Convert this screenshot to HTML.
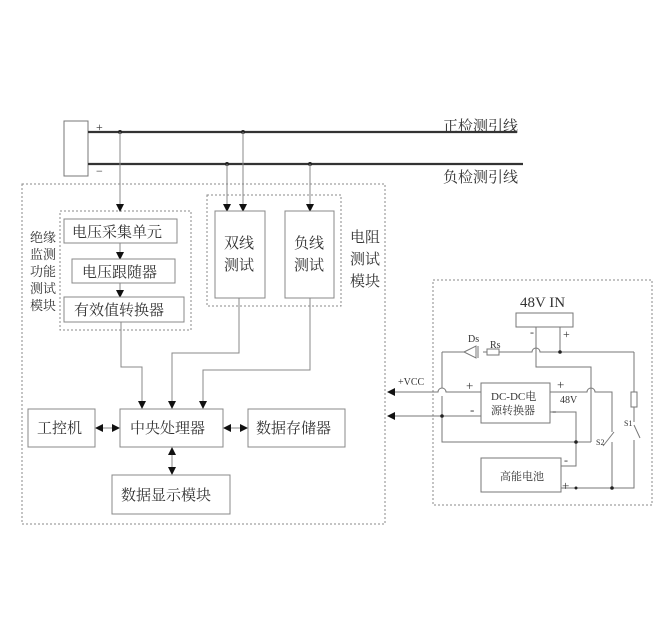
<!DOCTYPE html>
<html><head><meta charset="utf-8"><style>
body{margin:0;background:#fff}
svg{display:block}
text{font-family:"Liberation Serif","Noto Serif CJK SC","Noto Sans CJK SC",serif;fill:#333}
</style></head><body>
<svg width="667" height="644" viewBox="0 0 667 644" xmlns="http://www.w3.org/2000/svg">
<defs>
<marker id="a" markerWidth="8" markerHeight="8" refX="7" refY="4" orient="auto" markerUnits="userSpaceOnUse"><path d="M0,0 L8,4 L0,8 z" fill="#111"/></marker>
<marker id="s" markerWidth="8" markerHeight="8" refX="1" refY="4" orient="auto" markerUnits="userSpaceOnUse"><path d="M8,0 L0,4 L8,8 z" fill="#111"/></marker>
</defs>
<g fill="none" stroke="#888" stroke-width="1" stroke-dasharray="2,2">
<rect x="22" y="184" width="363" height="340"/>
<rect x="60" y="211" width="131" height="119"/>
<rect x="207" y="195" width="134" height="111"/>
<rect x="433" y="280" width="219" height="225"/>
</g>
<!-- probe lines -->
<rect x="64" y="121" width="24" height="55" fill="#fff" stroke="#777"/>
<line x1="88" y1="132" x2="517" y2="132" stroke="#333" stroke-width="2.2"/>
<line x1="88" y1="164" x2="523" y2="164" stroke="#333" stroke-width="2.2"/>
<text x="96" y="131" font-size="12" fill="#666">+</text>
<text x="96" y="175" font-size="12" fill="#666">−</text>
<text x="443" y="131" font-size="15">正检测引线</text>
<text x="443" y="182" font-size="15">负检测引线</text>
<g fill="#222"><circle cx="120" cy="132" r="2"/><circle cx="243" cy="132" r="2"/><circle cx="227" cy="164" r="2"/><circle cx="310" cy="164" r="2"/></g>
<g stroke="#888" stroke-width="1" fill="none">
<line x1="120" y1="132" x2="120" y2="211" marker-end="url(#a)"/>
<line x1="243" y1="132" x2="243" y2="211" marker-end="url(#a)"/>
<line x1="227" y1="164" x2="227" y2="211" marker-end="url(#a)"/>
<line x1="310" y1="164" x2="310" y2="211" marker-end="url(#a)"/>
<line x1="120" y1="243" x2="120" y2="259" marker-end="url(#a)"/>
<line x1="120" y1="283" x2="120" y2="297" marker-end="url(#a)"/>
<polyline points="121,322 121,367 142,367 142,408" marker-end="url(#a)"/>
<polyline points="239,298 239,353 172,353 172,408" marker-end="url(#a)"/>
<polyline points="310,298 310,370 203,370 203,408" marker-end="url(#a)"/>
<line x1="96" y1="428" x2="119" y2="428" marker-start="url(#s)" marker-end="url(#a)"/>
<line x1="224" y1="428" x2="247" y2="428" marker-start="url(#s)" marker-end="url(#a)"/>
<line x1="172" y1="448" x2="172" y2="474" marker-start="url(#s)" marker-end="url(#a)"/>
</g>
<g fill="#fff" stroke="#888">
<rect x="64" y="219" width="113" height="24"/>
<rect x="72" y="259" width="103" height="24"/>
<rect x="64" y="297" width="120" height="25"/>
<rect x="215" y="211" width="50" height="87"/>
<rect x="285" y="211" width="49" height="87"/>
<rect x="120" y="409" width="103" height="38"/>
<rect x="28" y="409" width="67" height="38"/>
<rect x="248" y="409" width="97" height="38"/>
<rect x="112" y="475" width="118" height="39"/>
</g>
<g font-size="15">
<text x="72" y="237">电压采集单元</text>
<text x="82" y="277">电压跟随器</text>
<text x="74" y="315">有效值转换器</text>
<text x="224" y="248">双线</text><text x="224" y="270">测试</text>
<text x="294" y="248">负线</text><text x="294" y="270">测试</text>
<text x="350" y="242">电阻</text><text x="350" y="264">测试</text><text x="350" y="286">模块</text>
<text x="130" y="433">中央处理器</text>
<text x="37" y="433">工控机</text>
<text x="256" y="433">数据存储器</text>
<text x="121" y="500">数据显示模块</text>
</g>
<g font-size="13">
<text x="30" y="242">绝缘</text><text x="30" y="259">监测</text><text x="30" y="276">功能</text><text x="30" y="293">测试</text><text x="30" y="310">模块</text>
</g>
<!-- right circuit -->
<g stroke="#777" stroke-width="1" fill="none">
<rect x="516" y="313" width="57" height="14" fill="#fff"/>
<path d="M442,352 L464,352 M483,352 L487,352 M499,352 L532,352 A4,4 0 0 1 540,352 L634,352"/>
<polyline points="536,327 536,367 591,367 591,442"/>
<line x1="560" y1="327" x2="560" y2="352"/>
<path d="M388,392 L438,392 A4,4 0 0 1 446,392 L481,392" marker-start="url(#s)"/>
<line x1="388" y1="416" x2="481" y2="416" marker-start="url(#s)"/>
<path d="M442,352 L442,388 M442,396 L442,442 L591,442"/>
<path d="M550,392 L587,392 A4,4 0 0 1 595,392 L612,392 L612,432"/>
<line x1="612" y1="442" x2="612" y2="488"/>
<line x1="603" y1="446" x2="614" y2="432"/>
<polyline points="550,412 576,412 576,466 561,466"/>
<path d="M634,352 L634,392 M634,407 L634,422 M634,440 L634,488 L561,488"/>
<rect x="631" y="392" width="6" height="15" fill="#fff"/>
<line x1="634" y1="425" x2="640" y2="438"/>
<rect x="487" y="349" width="12" height="6" fill="#fff"/>
<path d="M464,352 L476,346 L476,358 Z M478,346 L478,358" fill="#fff"/>
<rect x="481" y="383" width="69" height="40" fill="#fff"/>
<rect x="481" y="458" width="80" height="34" fill="#fff"/>
</g>
<g fill="#222"><circle cx="560" cy="352" r="1.8"/><circle cx="442" cy="416" r="1.8"/><circle cx="576" cy="442" r="1.8"/><circle cx="612" cy="488" r="1.8"/><circle cx="576" cy="488" r="1.5"/></g>
<text x="520" y="307" font-size="15" fill="#222">48V  IN</text>
<text x="530" y="336" font-size="12">-</text><text x="563" y="338" font-size="12">+</text>
<text x="468" y="342" font-size="10">Ds</text><text x="490" y="348" font-size="10">Rs</text>
<text x="398" y="385" font-size="10">+VCC</text>
<text x="466" y="390" font-size="13">+</text><text x="470" y="414" font-size="13">-</text>
<text x="557" y="389" font-size="13">+</text><text x="560" y="403" font-size="10">48V</text><text x="552" y="415" font-size="13">-</text>
<text x="491" y="400" font-size="11">DC-DC电</text><text x="491" y="414" font-size="11">源转换器</text>
<text x="500" y="480" font-size="11">高能电池</text>
<text x="564" y="464" font-size="12">-</text><text x="562" y="490" font-size="13">+</text>
<text x="596" y="445" font-size="8">S2</text><text x="624" y="426" font-size="8">S1</text>
</svg>
</body></html>
